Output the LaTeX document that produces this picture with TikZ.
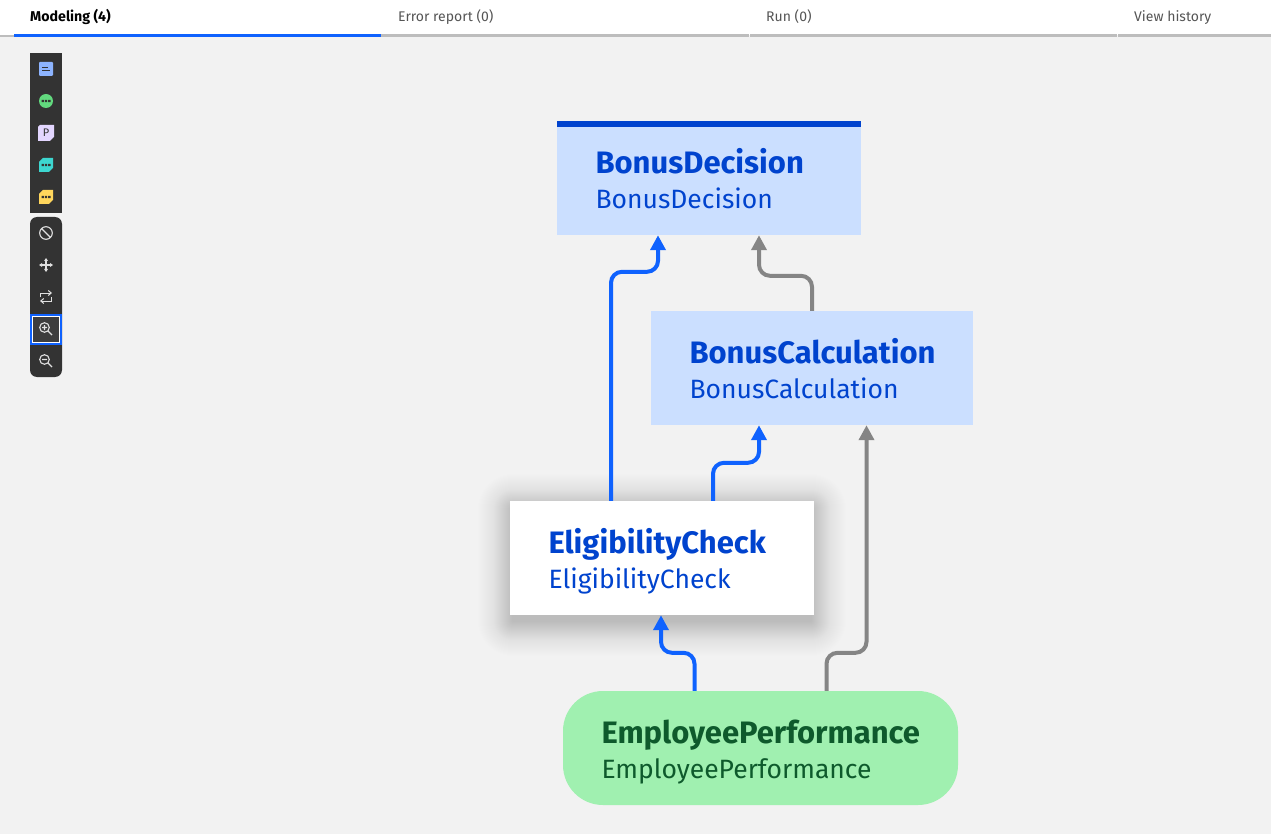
\documentclass[tikz,border=0pt]{standalone}
\usepackage{fontspec}
\setmainfont{Fira Sans}
\usetikzlibrary{arrows.meta,calc}
\definecolor{pagebg}{HTML}{F2F2F2}
\definecolor{tabline}{HTML}{BDBDBD}
\definecolor{ibmblue}{HTML}{0F62FE}
\definecolor{deepblue}{HTML}{0043CE}
\definecolor{paleblue}{HTML}{CBDFFF}
\definecolor{conngrey}{HTML}{858585}
\definecolor{palegreen}{HTML}{A0F0B0}
\definecolor{deepgreen}{HTML}{0E5A2C}
\definecolor{tooldark}{HTML}{333333}
\definecolor{tabgrey}{HTML}{555555}
\definecolor{iconblue}{HTML}{8DB4FF}
\definecolor{icongreen}{HTML}{62D97E}
\definecolor{iconlilac}{HTML}{E3D6FF}
\definecolor{iconteal}{HTML}{3DD6D0}
\definecolor{iconyellow}{HTML}{FFD65C}
\definecolor{hoverdark}{HTML}{3D3D3D}
\tikzset{
  x=1pt,y=-1pt,
  box/.style={rectangle,minimum width=#1,minimum height=114pt,inner ysep=0pt,inner xsep=38.5pt,
    text width=#1-77pt,align=left,text=deepblue,font=\fontsize{26.5}{35}\selectfont},
  decision/.style={box=#1,fill=paleblue},
  checkbox/.style={box=#1,fill=white},
  inputbox/.style={box=#1,fill=palegreen,text=deepgreen,rounded corners=40pt},
  conn/.style={line width=4pt,rounded corners=11pt,-{Triangle[width=15pt,length=15pt]}},
  blueconn/.style={conn,draw=ibmblue},
  greyconn/.style={conn,draw=conngrey},
  tab/.style={font=\fontsize{14}{16}\selectfont,text=tabgrey,anchor=base west,inner sep=0pt},
  icon/.style={line width=1.1pt,draw=white!88!black},
}
\newcommand{\dotsicon}[2]{\fill[tooldark] (#1-4.5,#2-1.2) rectangle ++(2.4,2.4) (#1-1.2,#2-1.2) rectangle ++(2.4,2.4) (#1+2.1,#2-1.2) rectangle ++(2.4,2.4);}
\newcommand{\twolines}[2]{\rule{0pt}{33pt}{\fontsize{31}{35}\selectfont\bfseries #1}\\\rule[-7pt]{0pt}{7pt}#2}
\begin{document}
\begin{tikzpicture}
\useasboundingbox (0,0) rectangle (1271,834);
\fill[pagebg] (0,0) rectangle (1271,834);
\fill[white] (0,0) rectangle (1271,35);
% tabs
\fill[tabline] (0,35.4) rectangle (14,37);
\fill[ibmblue] (14,33.8) rectangle (381,36.6);
\fill[tabline] (381,33.8) rectangle (749,36.6);
\fill[tabline] (749.7,33.8) rectangle (1117,36.6);
\fill[tabline] (1117.7,33.8) rectangle (1271,36.6);
\node[tab,text=black,font=\fontsize{14.2}{16}\selectfont\bfseries] (t1) at (30,21.5) {Modeling (4)};
\node[tab] (t2) at (398,21.5) {Error report (0)};
\node[tab] (t3) at (766,21.5) {Run (0)};
\node[tab] (t4) at (1134,21.5) {View history};
% toolbar
\fill[tooldark] (30,53) rectangle (62,213);
\fill[tooldark,rounded corners=7pt] (30,217) rectangle (62,377);
\fill[iconblue,rounded corners=1pt] (39,62) rectangle (53,76);
\draw[tooldark,line width=.9pt] (42,67.5) -- (48,67.5) (42,70.5) -- (50,70.5);
\fill[icongreen] (46,101) circle (7);
\dotsicon{46}{101}
\fill[iconlilac] (40,125) -- (54,125) -- (54,137) -- (50,141) -- (38,141) -- (38,127) -- cycle;
\node[inner sep=0pt,text=tooldark,font=\fontsize{11}{11}\selectfont] (picon) at (46,133) {P};
\fill[iconteal] (43,158) -- (53,158) -- (53,168) -- (49,172) -- (39,172) -- (39,162) -- cycle;
\dotsicon{46}{165}
\fill[iconyellow] (43,190) -- (53,190) -- (53,200) -- (49,204) -- (39,204) -- (39,194) -- cycle;
\dotsicon{46}{197}
\draw[icon] (46,233) circle (6.3) (41.6,228.6) -- (50.4,237.4);
\draw[icon] (46,260) -- (46,270) (41,265) -- (51,265);
\fill[white!88!black] (46,258) -- (48,261) -- (44,261) -- cycle (46,272) -- (48,269) -- (44,269) -- cycle (39,265) -- (42,263) -- (42,267) -- cycle (53,265) -- (50,263) -- (50,267) -- cycle;
\draw[icon,line width=1pt,-{Straight Barb[length=3pt,width=5pt]}] (40.5,297) |- (52,293);
\draw[icon,line width=1pt,-{Straight Barb[length=3pt,width=5pt]}] (51.5,297) |- (40,301);
\fill[hoverdark] (32,315.5) rectangle (60,343);
\draw[ibmblue,line width=1.6pt] (31.2,314.8) rectangle (60.8,344);
\draw[white,line width=.9pt] (32.6,316.2) rectangle (59.4,342.6);
\draw[icon] (44.5,327.5) circle (4.8) (48,331) -- (52,335) (42,327.5) -- (47,327.5) (44.5,325) -- (44.5,330);
\draw[icon] (44.5,359.5) circle (4.8) (48,363) -- (52,367) (42,359.5) -- (47,359.5);
% shadow
\foreach \i in {0,...,34}{
  \pgfmathsetmacro{\e}{34-\i}
  \pgfmathsetmacro{\r}{\e+1}
  \pgfmathsetmacro{\a}{.003+.00018*\i}
  \fill[black,opacity=\a,rounded corners=\r pt] (510-\e+2,501-\e+7) rectangle (814+\e-2,615+\e+7);
}
% nodes
\node[decision=304pt] (BD) at (709,178) {\twolines{BonusDecision}{BonusDecision}};
\node[decision=322pt] (BC) at (812,368) {\twolines{BonusCalculation}{BonusCalculation}};
\node[checkbox=304pt] (EC) at (662,558) {\twolines{EligibilityCheck}{EligibilityCheck}};
\node[inputbox=395pt] (EP) at (760.5,748) {\twolines{EmployeePerformance}{EmployeePerformance}};
\fill[deepblue] (557,121) rectangle (861,127);
% connectors
\draw[blueconn] ([xshift=-51pt]EC.north) -- ++(0,-229) -- ++(47,0) -- ([xshift=-51pt]BD.south);
\draw[greyconn] (BC.north) -- ++(0,-35) -- ++(-53,0) -- ([xshift=50pt]BD.south);
\draw[blueconn] ([xshift=51pt]EC.north) -- ++(0,-38) -- ++(46,0) -- ([xshift=-53pt]BC.south);
\draw[greyconn] ([xshift=66pt]EP.north) -- ++(0,-38) -- ++(40,0) -- ([xshift=54.5pt]BC.south);
\draw[blueconn] ([xshift=-66pt]EP.north) -- ++(0,-38) -- ++(-33.5,0) -- ([xshift=-1pt]EC.south);
\end{tikzpicture}
\end{document}
